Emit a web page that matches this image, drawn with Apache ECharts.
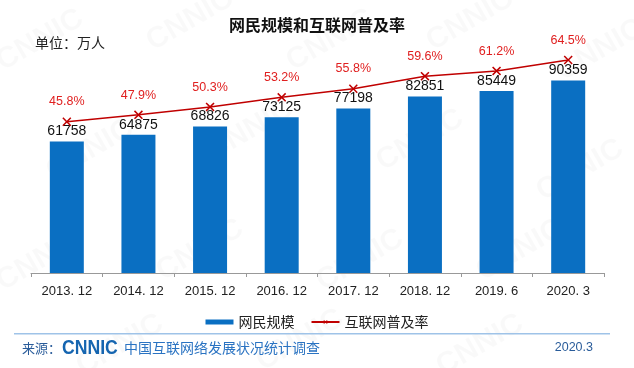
<!DOCTYPE html>
<html><head><meta charset="utf-8">
<script src="https://cdn.jsdelivr.net/npm/echarts@6/dist/echarts.min.js"></script>
<style>html,body{margin:0;padding:0;background:#fff}#c{width:634px;height:368px}</style>
</head><body><div id="c"></div>
<script>
const categories = ['2013. 12','2014. 12','2015. 12','2016. 12','2017. 12','2018. 12','2019. 6','2020. 3'];
const netizens = [61758,64875,68826,73125,77198,82851,85449,90359];
const penetration = [45.8,47.9,50.3,53.2,55.8,59.6,61.2,64.5];

const font = '"Liberation Sans", Arial, "Noto Sans CJK SC", sans-serif';
const cjk = '"Noto Sans CJK SC", sans-serif';
const chart = echarts.init(document.getElementById('c'));

const wm = [];
const wmPos = [[40,40],[190,20],[330,40],[470,20],[600,50],[90,150],[250,130],[420,140],[580,170],[40,260],[200,250],[360,260],[520,250],[120,345],[300,340],[480,345]];
wmPos.forEach(p => wm.push({type:'text', x:p[0], y:p[1], rotation:Math.PI/6, silent:true, z:-10,
  style:{text:'CNNIC', font:'bold 30px ' + font, fill:'rgba(0,0,0,0.022)', align:'center', verticalAlign:'middle'}}));

const xSym = 'path://M0,1.2L1.2,0L5,3.8L8.8,0L10,1.2L6.2,5L10,8.8L8.8,10L5,6.2L1.2,10L0,8.8L3.8,5Z';

chart.setOption({
  animation:false,
  title:{text:'网民规模和互联网普及率', left:'center', top:12,
    textStyle:{fontFamily:cjk, fontSize:16, fontWeight:'bold', color:'#111'}},
  grid:{left:31, right:30, top:60, bottom:95},
  legend:{bottom:34, left:'center', itemGap:16, itemWidth:28, itemHeight:5,
    textStyle:{fontFamily:cjk, fontSize:14, color:'#222'},
    data:[{name:'网民规模', icon:'rect'},{name:'互联网普及率'}]},
  xAxis:{type:'category', data:categories,
    axisLine:{lineStyle:{color:'#999'}}, axisTick:{show:true, length:4, lineStyle:{color:'#999'}},
    axisLabel:{fontFamily:font, fontSize:13, color:'#222', margin:12}},
  yAxis:[{type:'value', min:0, max:100000, show:false},
         {type:'value', min:0, max:64.5, show:false}],
  series:[
    {name:'网民规模', type:'bar', data:netizens, barWidth:34, yAxisIndex:0,
      itemStyle:{color:'#0a6fc2'},
      label:{show:true, position:'top', distance:3, fontFamily:font, fontSize:14, color:'#111'}},
    {name:'互联网普及率', type:'line', data:penetration, yAxisIndex:1,
      lineStyle:{color:'#c00000', width:1.5}, itemStyle:{color:'#c00000', borderWidth:0},
      symbol:xSym, symbolSize:9, showSymbol:true,
      label:{show:true, position:'top', distance:9, fontFamily:font, fontSize:12.5, color:'#e02020',
        formatter:p=>p.value.toFixed(1)+'%'}}
  ],
  graphic:wm.concat([
    {type:'text', left:35, top:36, style:{text:'单位：万人', font:'14px ' + cjk, fill:'#222'}},
    {type:'rect', shape:{x:14, y:333, width:596, height:1.5}, style:{fill:'#9fc3e8'}},
    {type:'text', x:22, y:348, style:{text:'来源：', font:'13px ' + cjk, fill:'#2a5c9a', verticalAlign:'middle'}},
    {type:'text', x:62, y:348, scaleX:0.84, style:{text:'CNNIC', font:'bold 21px ' + font, fill:'#1565b0', verticalAlign:'middle'}},
    {type:'text', x:124, y:348, style:{text:'中国互联网络发展状况统计调查', font:'14px ' + cjk, fill:'#2a73c2', verticalAlign:'middle'}},
    {type:'text', x:593, y:348, style:{text:'2020.3', font:'12.5px ' + font, fill:'#2a5c9a', align:'right', verticalAlign:'middle'}}
  ])
});
</script></body></html>
